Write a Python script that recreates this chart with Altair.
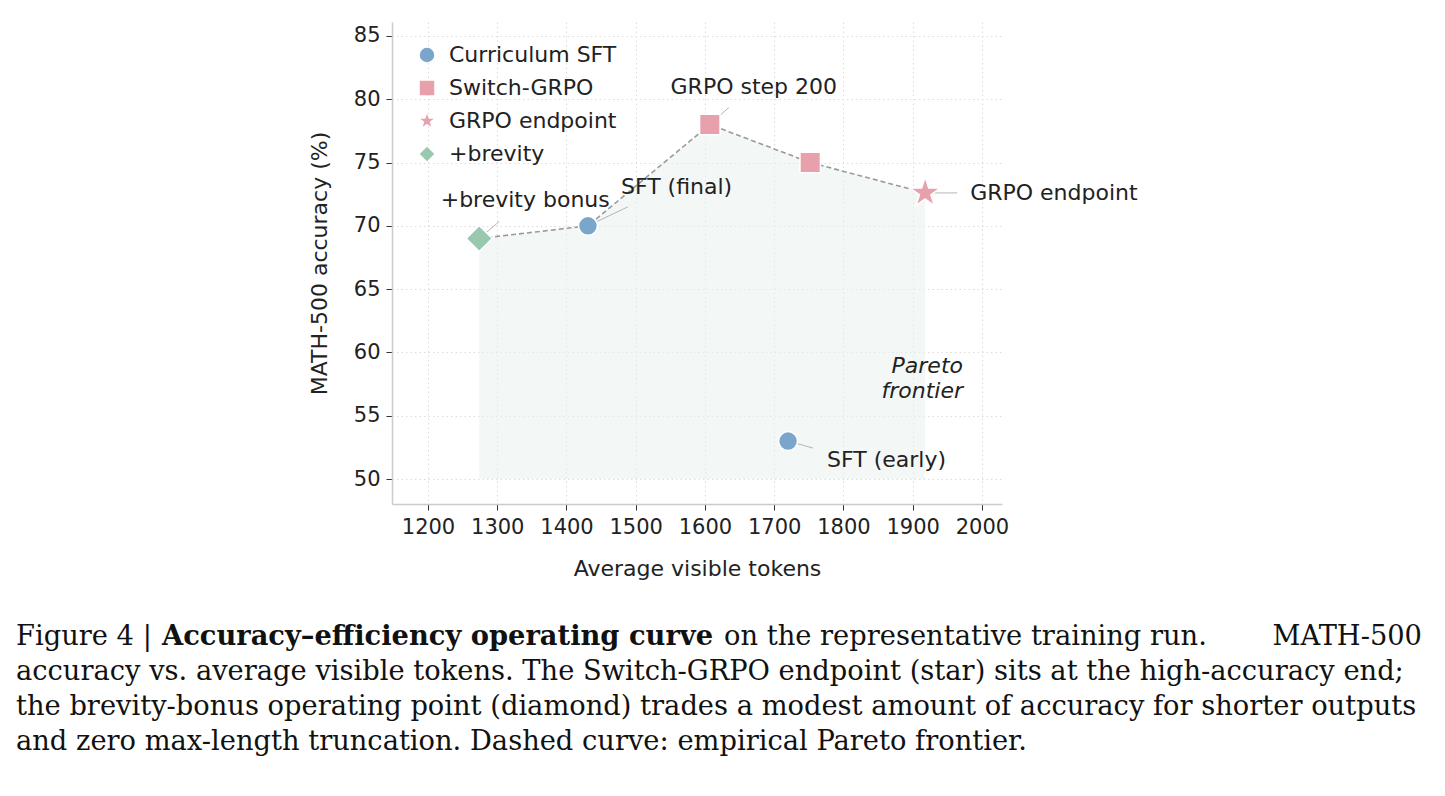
import altair as alt
import pandas as pd

# ---- data -------------------------------------------------------------
# five-pointed star as a custom symbol path (unit radius)
STAR = ("M0,-1L0.2245,-0.309L0.9511,-0.309L0.3633,0.118L0.5878,0.809L0,0.382"
        "L-0.5878,0.809L-0.3633,0.118L-0.9511,-0.309L-0.2245,-0.309Z")

groups = ["Curriculum SFT", "Switch-GRPO", "GRPO endpoint", "+brevity"]
group_colors = ["#7aa6cc", "#e8a0ac", "#e8a0ac", "#98c9ae"]
group_shapes = ["circle", "square", STAR, "diamond"]
group_sizes = [360, 420, 1000, 680]

point_group = ["Curriculum SFT", "Curriculum SFT", "Switch-GRPO", "Switch-GRPO",
               "GRPO endpoint", "+brevity"]
point_tokens = [1431, 1720, 1607, 1752, 1918, 1274]
point_acc = [70.0, 53.0, 78.0, 75.0, 72.6, 69.0]

# empirical Pareto frontier, left to right
frontier_tokens = [1274, 1431, 1607, 1752, 1918]
frontier_acc = [69.0, 70.0, 78.0, 75.0, 72.6]
area_floor = 50

x_ticks = [1200, 1300, 1400, 1500, 1600, 1700, 1800, 1900, 2000]
y_ticks = [50, 55, 60, 65, 70, 75, 80, 85]
x_domain = [1148, 2029]
y_domain = [48.03, 86.1]

# annotation: label, point, text offset (px), align, leader end offset (px)
annotations = [
    ("GRPO step 200", 1607, 78.0, 44, -38, "center", 19, -17),
    ("SFT (final)", 1431, 70.0, 33, -39, "left", 40, -19),
    ("+brevity bonus", 1274, 69.0, 46, -39, "center", 20, -17),
    ("GRPO endpoint", 1918, 72.6, 45, 0, "left", 32, 0),
    ("SFT (early)", 1720, 53.0, 39, 19, "left", 25, 7),
]

caption_lines = [
    "accuracy vs. average visible tokens. The Switch-GRPO endpoint (star) sits at the high-accuracy end;",
    "the brevity-bonus operating point (diamond) trades a modest amount of accuracy for shorter outputs",
    "and zero max-length truncation. Dashed curve: empirical Pareto frontier.",
]

# ---- layout -----------------------------------------------------------
W, H = 610, 482
LEFT, TOP = 392, 22
PAD = {"left": LEFT, "top": TOP, "right": 1445 - LEFT - W, "bottom": 796 - TOP - H}
px_per_x = W / (x_domain[1] - x_domain[0])
px_per_y = H / (y_domain[1] - y_domain[0])

SANS = "DejaVu Sans"
SERIF = "DejaVu Serif"
INK = "#222222"
FS = 22       # chart text size
CAP = 27.3    # caption text size

xs = alt.Scale(domain=x_domain, nice=False, zero=False)
ys = alt.Scale(domain=y_domain, nice=False, zero=False)

axis_style = dict(grid=True, gridDash=[1.5, 3], gridColor="#dcdcdc", gridWidth=1,
                  domainColor="#cccccc", domainWidth=1.5, tickColor="#333333",
                  tickSize=6, labelFontSize=FS - 1, labelColor=INK, labelPadding=6,
                  titleFontSize=FS, titleColor=INK, titleFontWeight="normal",
                  labelFont=SANS, titleFont=SANS)
x_axis = alt.Axis(values=x_ticks, title="Average visible tokens", format="d",
                  titlePadding=21, **axis_style)
y_axis = alt.Axis(values=y_ticks, title="MATH-500 accuracy (%)", format="d",
                  titlePadding=22, **axis_style)

points = pd.DataFrame({"group": point_group, "tokens": point_tokens, "acc": point_acc})
frontier = pd.DataFrame({"tokens": frontier_tokens, "acc": frontier_acc, "floor": area_floor})

lead_rows = []
for label, tx, ty, dx, dy, align, lx, ly in annotations:
    lead_rows.append({"label": label, "tokens": tx, "acc": ty,
                      "tokens2": tx + lx / px_per_x, "acc2": ty - ly / px_per_y})
leads = pd.DataFrame(lead_rows)

X = alt.X("tokens:Q", scale=xs, axis=x_axis)
Y = alt.Y("acc:Q", scale=ys, axis=y_axis)

shade = alt.Chart(frontier).mark_area(color="#e9f1ee", opacity=0.55).encode(
    x=X, y=Y, y2="floor:Q",
)

dashed = alt.Chart(frontier).mark_line(color="#9a9a9a", strokeDash=[5, 3], strokeWidth=1.6).encode(
    x=X, y=Y,
)

leaders = alt.Chart(leads).mark_rule(color="#b5b5b5", strokeWidth=1).encode(
    x=X, y=Y, x2="tokens2:Q", y2="acc2:Q",
)

legend = alt.Legend(title=None, orient="none", legendX=24, legendY=22,
                    labelFontSize=FS, labelColor=INK, labelFont=SANS, labelLimit=400,
                    symbolSize=210, symbolStrokeWidth=0, rowPadding=11,
                    labelOffset=11, symbolOpacity=1)

# one layer per group so every symbol keeps its own size
marks = []
for g, size in zip(groups, group_sizes):
    marks.append(
        alt.Chart(points).transform_filter(alt.datum.group == g).mark_point(
            filled=True, opacity=1, stroke="white", strokeWidth=1.5, size=size
        ).encode(
            x=X, y=Y,
            color=alt.Color("group:N", scale=alt.Scale(domain=groups, range=group_colors),
                            legend=legend),
            shape=alt.Shape("group:N", scale=alt.Scale(domain=groups, range=group_shapes),
                            legend=legend),
        )
    )

labels = []
for label, tx, ty, dx, dy, align, lx, ly in annotations:
    labels.append(
        alt.Chart(leads).transform_filter(alt.datum.label == label).mark_text(
            font=SANS, fontSize=FS, color=INK, align=align, baseline="middle", dx=dx, dy=dy
        ).encode(x=X, y=Y, text="label:N")
    )


def free_text(text, x, y, size, font, bold=False, italic=False, align="left",
              color="#111111", baseline="alphabetic"):
    return alt.Chart(pd.DataFrame({"t": [text]})).mark_text(
        font=font, fontSize=size, color=color, align=align, baseline=baseline,
        fontWeight="bold" if bold else "normal",
        fontStyle="italic" if italic else "normal",
    ).encode(x=alt.value(x - LEFT), y=alt.value(y - TOP), text="t:N")


pareto = [
    free_text("Pareto", 963, 366, FS, SANS, italic=True, align="right", color=INK,
              baseline="middle"),
    free_text("frontier", 963, 391, FS, SANS, italic=True, align="right", color=INK,
              baseline="middle"),
]

caption = [
    free_text("Figure 4 |", 16, 645, CAP, SERIF),
    free_text("Accuracy–efficiency operating curve", 162, 645, CAP, SERIF, bold=True),
    free_text("on the representative training run.", 724, 645, CAP, SERIF),
    free_text("MATH-500", 1422, 645, CAP, SERIF, align="right"),
]
for i, line in enumerate(caption_lines):
    caption.append(free_text(line, 16, 680 + 35 * i, CAP, SERIF))

chart = alt.layer(shade, dashed, leaders, *marks, *labels, *pareto, *caption).properties(
    width=W, height=H, padding=PAD, autosize=alt.AutoSizeParams(type="none"),
    background="white",
).configure_view(stroke=None)

chart.save("out.html", embed_options={"renderer": "svg", "actions": False})
